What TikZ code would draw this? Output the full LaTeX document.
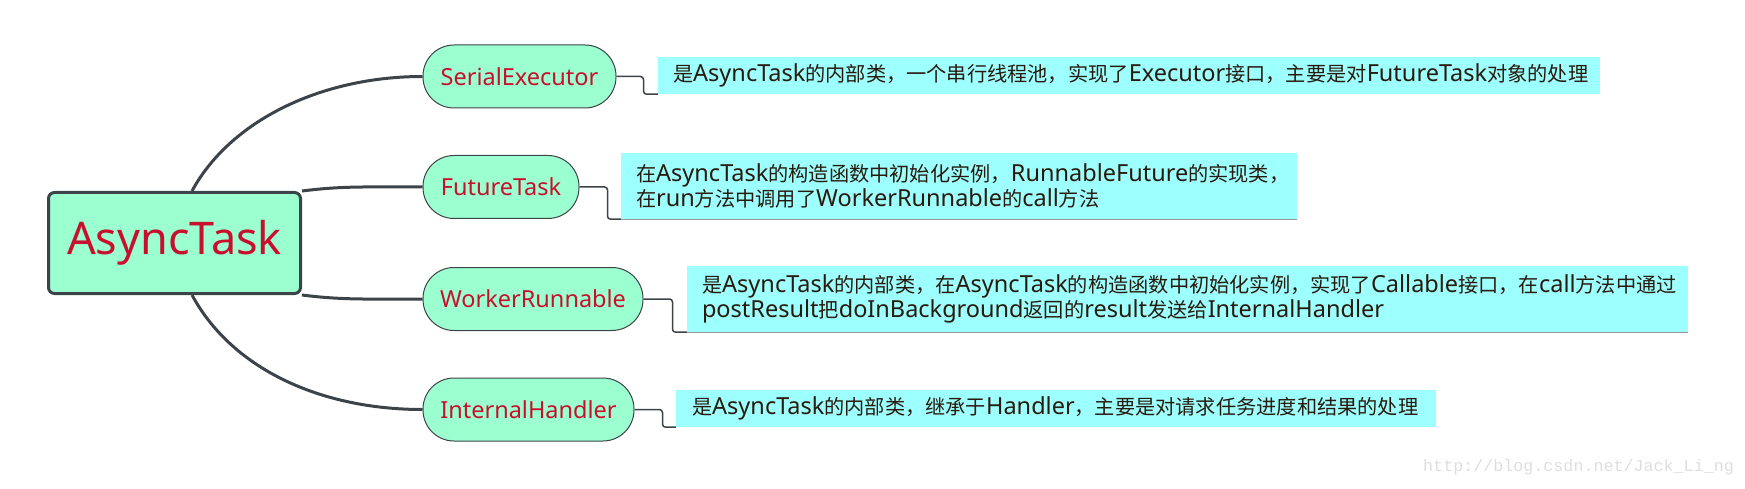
\documentclass[tikz,border=0pt]{standalone}
\usepackage{fontspec}
\setmainfont{Noto Sans}
\newfontfamily\zhfont{Noto Sans CJK SC}[Scale=0.86]
\newfontfamily\wmfont{Liberation Mono}
\newcommand\zc[1]{{\zhfont #1}}
\definecolor{linec}{RGB}{60,68,74}
\definecolor{mint}{RGB}{155,255,207}
\definecolor{redtxt}{RGB}{200,16,46}
\definecolor{cyanbox}{RGB}{158,255,255}
\definecolor{bodytxt}{RGB}{40,26,12}
\definecolor{ulc}{RGB}{150,150,150}
\definecolor{wmc}{RGB}{222,222,222}
\tikzset{
  rootbox/.style={draw=linec, line width=3pt, fill=mint, rounded corners=6pt,
    text=redtxt, font=\fontsize{45}{50}\selectfont, inner sep=0pt},
  childbox/.style={draw=linec, line width=1pt, fill=mint, rounded corners=31pt,
    text=redtxt, font=\fontsize{23.5}{28}\selectfont, inner sep=0pt, minimum height=63pt},
  notebox/.style={fill=cyanbox, text=bodytxt, font=\fontsize{23.5}{24.5}\selectfont,
    align=left, inner ysep=0pt},
  branch/.style={draw=linec, line width=3pt},
  conn/.style={draw=linec, line width=1.5pt, rounded corners=3pt},
  uline/.style={draw=ulc, line width=1.2pt}
}
\begin{document}
\begin{tikzpicture}[x=1pt,y=-1pt]
\useasboundingbox (0,0) rectangle (1745,489);
% notes
\node[notebox, inner xsep=15pt, text width=912pt, minimum height=37pt] (t1) at (1129,75.5)
 {\mbox{\zc{是}AsyncTask\zc{的内部类，一个串行线程池，实现了}Executor\zc{接口，主要是对}FutureTask\zc{对象的处理}}};
\node[notebox, inner xsep=15pt, text width=646pt, minimum height=66pt] (t2) at (959,186)
 {\mbox{\zc{在}AsyncTask\zc{的构造函数中初始化实例，}RunnableFuture\zc{的实现类，}}\\\mbox{\zc{在}run\zc{方法中调用了}WorkerRunnable\zc{的}call\zc{方法}}};
\node[notebox, inner xsep=15pt, text width=971pt, minimum height=66pt] (t3) at (1187.5,299)
 {\mbox{\zc{是}AsyncTask\zc{的内部类，在}AsyncTask\zc{的构造函数中初始化实例，实现了}Callable\zc{接口，在}call\zc{方法中通过}}\\\mbox{postResult\zc{把}doInBackground\zc{返回的}result\zc{发送给}InternalHandler}};
\node[notebox, inner xsep=16pt, text width=728pt, minimum height=37pt] (t4) at (1056,408.5)
 {\mbox{\zc{是}AsyncTask\zc{的内部类，继承于}Handler\zc{，主要是对请求任务进度和结果的处理}}};
\draw[uline] (t2.south west) -- (t2.south east);
\draw[uline] (t3.south west) -- (t3.south east);
% root and children
\node[rootbox, minimum width=252pt, minimum height=101pt] (at) at (174.5,243) {AsyncTask};
\node[childbox, minimum width=193pt] (se) at (519.5,76.5) {SerialExecutor};
\node[childbox, minimum width=156pt] (ft) at (501,187) {FutureTask};
\node[childbox, minimum width=220pt] (wr) at (533,299) {WorkerRunnable};
\node[childbox, minimum width=211pt] (ih) at (528.5,409.5) {InternalHandler};
% branches
\draw[branch] ([xshift=17.5pt]at.north) .. controls +(38,-70) and +(-102,0) .. (se.west);
\draw[branch] (at.north east) .. controls +(40,-5) and +(-60,0) .. (ft.west);
\draw[branch] (at.south east) .. controls +(40,5) and +(-60,0) .. (wr.west);
\draw[branch] ([xshift=17.5pt]at.south) .. controls +(40,74) and +(-102,0) .. (ih.west);
% connectors to notes
\draw[conn] (se.east) -- ++(27,0) |- (t1.south west);
\draw[conn] (ft.east) -- ++(28,0) |- (t2.south west);
\draw[conn] (wr.east) -- ++(29,0) |- (t3.south west);
\draw[conn] (ih.east) -- ++(28,0) |- (t4.south west);
% watermark
\node[anchor=west, text=wmc, font=\wmfont\fontsize{16.7}{18}\selectfont, inner sep=0pt] (wm) at (1423,467) {http://blog.csdn.net/Jack\_Li\_ng};
\end{tikzpicture}
\end{document}
